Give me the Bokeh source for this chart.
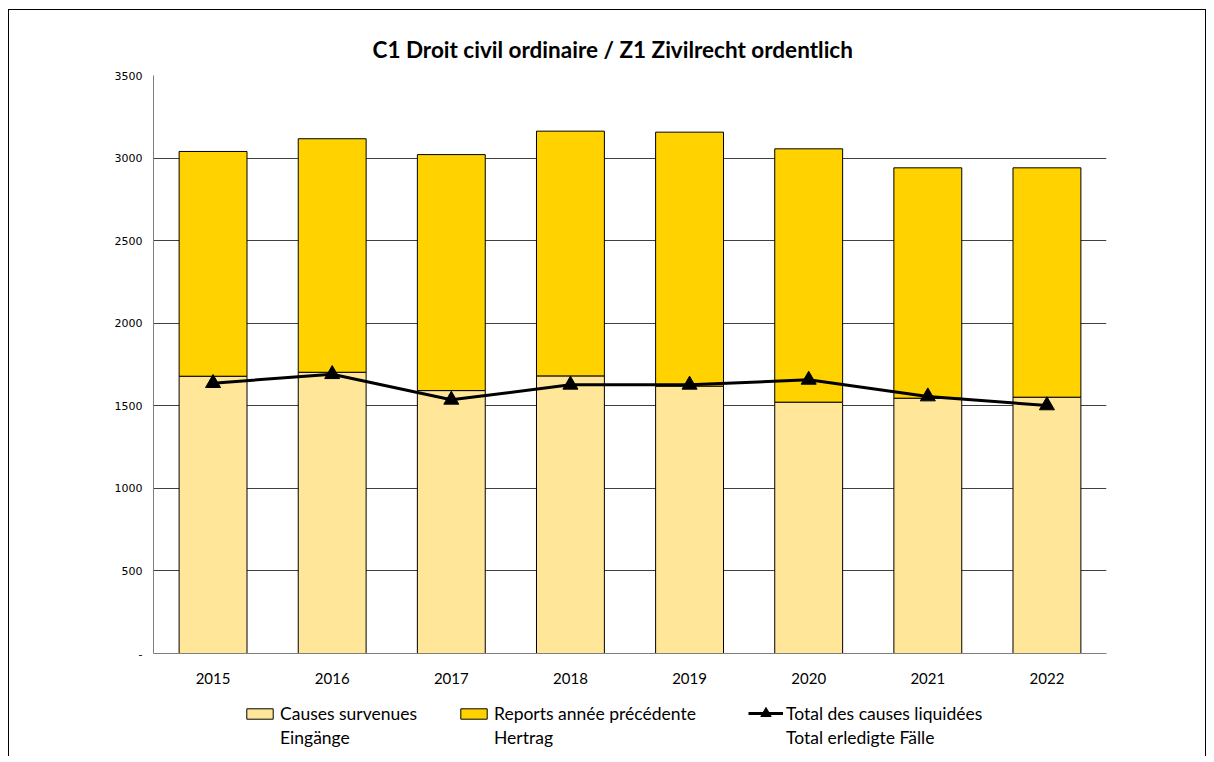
from bokeh.plotting import figure
from bokeh.layouts import column
from bokeh.models import ColumnDataSource, FactorRange, Range1d, Legend, LegendItem, FixedTicker
from bokeh.embed import file_html
from bokeh.resources import INLINE

years = ["2015", "2016", "2017", "2018", "2019", "2020", "2021", "2022"]
survenues = [1679, 1703, 1592, 1681, 1619, 1522, 1546, 1552]
reports = [1361, 1414, 1429, 1482, 1538, 1534, 1395, 1389]
liquidees = [1637, 1691, 1536, 1627, 1627, 1657, 1556, 1502]
y_ticks = [0, 500, 1000, 1500, 2000, 2500, 3000, 3500]

title_text = "C1 Droit civil ordinaire / Z1 Zivilrecht ordentlich"
labels_fr = ["Causes survenues", "Reports année précédente", "Total des causes liquidées"]
labels_de = ["Eingänge", "Hertrag", "Total erledigte Fälle"]

C_SURV, C_REP = "#FFE699", "#FFD200"
src = ColumnDataSource(dict(years=years, survenues=survenues, reports=reports, liquidees=liquidees))


def draw_series(fig, visible=True):
    bars = fig.vbar_stack(["survenues", "reports"], x="years", width=0.57, source=src,
                          fill_color=[C_SURV, C_REP], line_color="black", line_width=1,
                          visible=visible)
    ln = fig.line(x="years", y="liquidees", source=src, line_color="black", line_width=3,
                  visible=visible)
    mk = fig.scatter(x="years", y="liquidees", source=src, marker="triangle", size=15,
                     fill_color="black", line_color="black", visible=visible)
    return bars, ln, mk


p = figure(width=1196, height=688, frame_width=953, frame_height=578,
           x_range=FactorRange(*years, range_padding=0),
           y_range=Range1d(0, 3500), output_backend="svg", toolbar_location=None,
           min_border_left=144, min_border_right=99, min_border_top=65, min_border_bottom=45)
p.outline_line_color = None
p.background_fill_color = "white"
draw_series(p)

p.title.text = title_text
p.title.align = "left"
p.title.offset = 219
p.title.standoff = 26
p.title.text_font = "Lato"
p.title.text_font_style = "bold"
p.title.text_font_size = "22.5px"
p.title.text_color = "black"

p.xgrid.grid_line_color = None
p.ygrid.grid_line_color = "#404040"
p.ygrid.grid_line_width = 1
p.yaxis.ticker = FixedTicker(ticks=y_ticks)
p.yaxis.major_label_overrides = {0: "-"}
p.yaxis.major_tick_line_color = None
p.yaxis.minor_tick_line_color = None
p.yaxis.major_tick_out = 0
p.yaxis.major_tick_in = 0
p.yaxis.axis_line_color = "#7f7f7f"
p.yaxis.major_label_text_font = "DejaVu Sans"
p.yaxis.major_label_text_font_size = "11px"
p.yaxis.major_label_text_color = "black"
p.yaxis.major_label_standoff = 11

p.xaxis.major_tick_line_color = None
p.xaxis.axis_line_color = "#7f7f7f"
p.xaxis.major_label_text_font = "Lato"
p.xaxis.major_label_text_font_size = "15px"
p.xaxis.major_label_text_color = "black"
p.xaxis.major_label_standoff = 13

# legend strip: a second figure whose frame holds the legend; its copies of the
# series are hidden, so only their legend glyphs show
LH = 58
lf = figure(width=1196, height=LH, frame_width=953, frame_height=LH,
            x_range=FactorRange(*years, range_padding=0), y_range=Range1d(-2, -1),
            output_backend="svg", toolbar_location=None,
            x_axis_type=None, y_axis_type=None,
            min_border_left=144, min_border_right=99, min_border_top=0, min_border_bottom=0)
lf.outline_line_color = None
lf.xgrid.grid_line_color = None
lf.ygrid.grid_line_color = None
(l_surv, l_rep), l_ln, l_mk = draw_series(lf, visible=False)
l_blank = lf.scatter(x="years", y="liquidees", source=src, marker="square",
                     fill_alpha=0, line_alpha=0, visible=False)

leg_x = [90, 304, 595]
glyph_w = [33, 33, 35]
glyph_h = [13, 13, 26]
rends = [[l_surv], [l_rep], [l_ln, l_mk]]
for i in range(3):
    common = dict(orientation="horizontal", label_text_font="Lato", label_text_font_size="17.5px",
                  label_text_color="black", glyph_width=glyph_w[i], label_height=22,
                  label_standoff=4 if i < 2 else 3, border_line_color=None,
                  background_fill_alpha=0, padding=0, margin=0, click_policy="none")
    h1 = max(22, glyph_h[i])
    lf.add_layout(Legend(items=[LegendItem(label=labels_fr[i], renderers=rends[i])],
                         location=(leg_x[i], LH - 15 - h1 // 2), glyph_height=glyph_h[i], **common))
    lf.add_layout(Legend(items=[LegendItem(label=labels_de[i], renderers=[l_blank])],
                         location=(leg_x[i], LH - 39 - 11), glyph_height=13, **common))

layout = column(p, lf, spacing=0)
layout.styles = {"margin-left": "8px", "margin-top": "9px",
                 "border-left": "1px solid black", "border-top": "1px solid black",
                 "border-right": "1px solid black"}

open("out.html", "w").write(file_html(layout, INLINE))
